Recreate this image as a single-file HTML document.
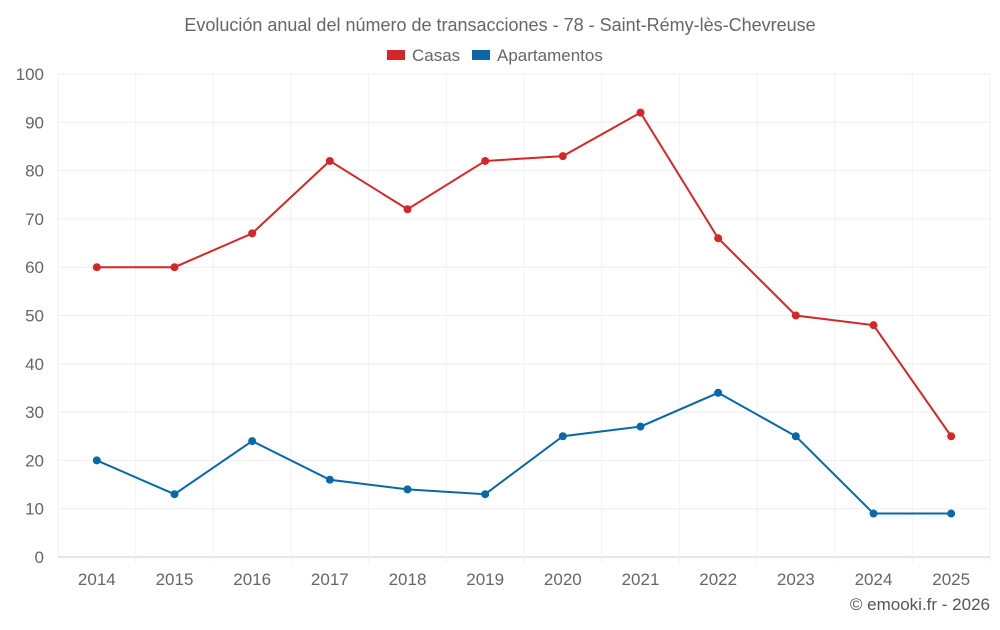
<!DOCTYPE html>
<html><head><meta charset="utf-8">
<style>
body{margin:0;background:#fff;width:1000px;height:625px;overflow:hidden;font-family:"Liberation Sans",sans-serif;}
svg text{font-family:"Liberation Sans",sans-serif;}
</style></head>
<body>
<svg id="chart" width="1000" height="625">
<text x="500" y="31" text-anchor="middle" font-size="18" fill="#666">Evolución anual del número de transacciones - 78 - Saint-Rémy-lès-Chevreuse</text>
<g><rect x="387" y="50" width="18" height="10" fill="#d62728"/><text x="412" y="61" font-size="17" fill="#666">Casas</text></g>
<g><rect x="472" y="50" width="18" height="10" fill="#0868a8"/><text x="497" y="61" font-size="17" fill="#666">Apartamentos</text></g>
<g id="grid"></g><g id="axes"></g><g id="series"></g>
<text x="990" y="610" text-anchor="end" font-size="17" fill="#555">© emooki.fr - 2026</text>
</svg>
<script>
const categories=["2014","2015","2016","2017","2018","2019","2020","2021","2022","2023","2024","2025"];
const casas=[60,60,67,82,72,82,83,92,66,50,48,25];
const apartamentos=[20,13,24,16,14,13,25,27,34,25,9,9];
const yTicks=[0,10,20,30,40,50,60,70,80,90,100];
const NS="http://www.w3.org/2000/svg";
const L=58,R=990,T=74,B=557,yMax=100;
const step=(R-L)/categories.length;
const x=i=>L+step*(i+0.5);
const y=v=>B-(v/yMax)*(B-T);
function mk(t,a,p){const e=document.createElementNS(NS,t);for(const k in a)e.setAttribute(k,a[k]);p.appendChild(e);return e;}
const grid=document.getElementById('grid'),axes=document.getElementById('axes'),series=document.getElementById('series');
yTicks.forEach(v=>{
 const ln=mk('line',{x1:L,x2:R,y1:y(v),y2:y(v),stroke:v===0?'#ccc':'#eeeeee','stroke-width':1},grid);
 
 
 const t=mk('text',{x:L-14,y:y(v)+6,'text-anchor':'end','font-size':17,fill:'#666'},axes);
 t.textContent=v;
 
 
});
for(let i=0;i<=categories.length;i++){
 const ln=mk('line',{x1:L+step*i,x2:L+step*i,y1:T,y2:B+(i===0?0:6),stroke:'#f2f2f2','stroke-width':1},grid);
 
 
}
categories.forEach((c,i)=>{
 const t=mk('text',{x:x(i),y:585,'text-anchor':'middle','font-size':17,fill:'#666'},axes);
 t.textContent=c;
 
 
});
function draw(data,color,name){
 const p=mk('polyline',{points:data.map((v,i)=>x(i)+','+y(v)).join(' '),fill:'none',stroke:color,'stroke-width':2},series);
 
 
 data.forEach((v,i)=>{
  const c=mk('circle',{cx:x(i),cy:y(v),r:4,fill:color},series);
  
  
 });
}
draw(casas,'#d62728','casas');
draw(apartamentos,'#0868a8','apartamentos');
</script>
</body></html>
